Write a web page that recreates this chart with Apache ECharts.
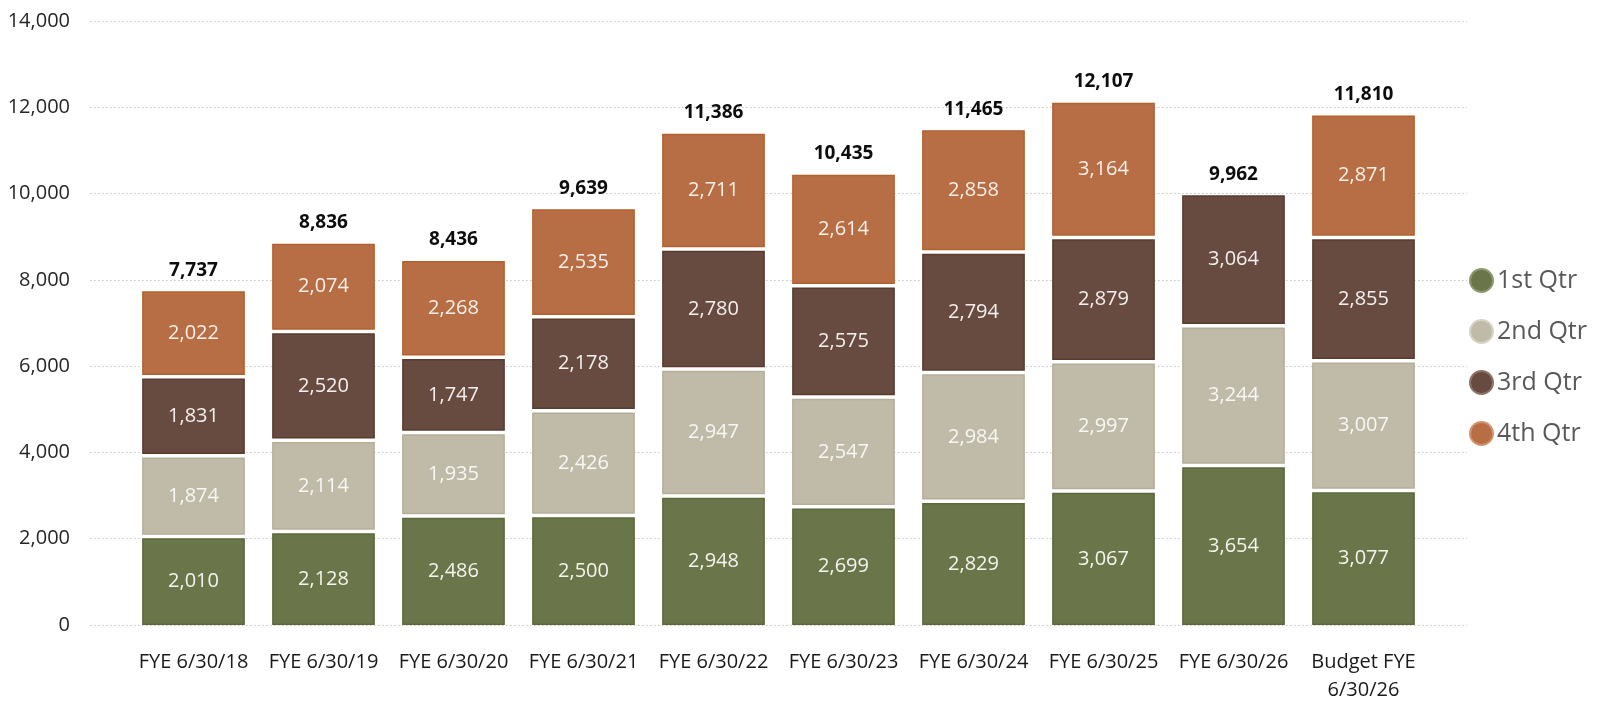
<!DOCTYPE html>
<html>
<head>
<meta charset="utf-8">
<title>Quarterly totals by fiscal year</title>
<script src="https://cdn.jsdelivr.net/npm/echarts@6/dist/echarts.min.js"></script>
<style>
  html, body { margin: 0; padding: 0; background: #ffffff; }
  #chart { width: 1602px; height: 709px; }
</style>
</head>
<body>
<div id="chart"></div>
<script>
// Fiscal years shown along the bottom
const categories = [
  'FYE 6/30/18', 'FYE 6/30/19', 'FYE 6/30/20', 'FYE 6/30/21', 'FYE 6/30/22',
  'FYE 6/30/23', 'FYE 6/30/24', 'FYE 6/30/25', 'FYE 6/30/26', 'Budget FYE\n6/30/26'
];

// Quarter values per fiscal year (null = quarter not yet reported)
const q1 = [2010, 2128, 2486, 2500, 2948, 2699, 2829, 3067, 3654, 3077];
const q2 = [1874, 2114, 1935, 2426, 2947, 2547, 2984, 2997, 3244, 3007];
const q3 = [1831, 2520, 1747, 2178, 2780, 2575, 2794, 2879, 3064, 2855];
const q4 = [2022, 2074, 2268, 2535, 2711, 2614, 2858, 3164, null, 2871];

const seriesNames = ['1st Qtr', '2nd Qtr', '3rd Qtr', '4th Qtr'];

// Value axis ticks
const yTicks = [0, 2000, 4000, 6000, 8000, 10000, 12000, 14000];

const palette = [
  { fill: '#6a7649', stroke: '#5b6839', ring: '#8e9870', text: '#f4f4ee' },
  { fill: '#c0bba8', stroke: '#b4ae99', ring: '#d6d2c4', text: '#f7f7f3' },
  { fill: '#684b40', stroke: '#5a3b2e', ring: '#8c7368', text: '#f4efec' },
  { fill: '#b86e45', stroke: '#b3602f', ring: '#d0936f', text: '#f8efe9' }
];

const fmt = v => String(v).replace(/\B(?=(\d{3})+(?!\d))/g, ',');
const FONT = '"Open Sans", "Noto Sans", sans-serif';

const quarters = [q1, q2, q3, q4];

// Stack bases, built from the quarter arrays
const bases = quarters.map((q, qi) =>
  categories.map((_, ci) => {
    let b = 0;
    for (let k = 0; k < qi; k++) b += quarters[k][ci] || 0;
    return b;
  })
);
const totals = categories.map((_, ci) =>
  quarters.reduce((s, q) => s + (q[ci] || 0), 0)
);

const SEG_GAP = 3.5;       // white gap between stacked segments
const BAR_RATIO = 0.79;    // bar width relative to the category band

function segmentSeries(qi) {
  const col = palette[qi];
  const data = [];
  quarters[qi].forEach((v, ci) => {
    if (v != null) data.push([ci, bases[qi][ci], v]);
  });
  return {
    name: seriesNames[qi],
    type: 'custom',
    xAxisIndex: 1,
    yAxisIndex: 1,
    itemStyle: { color: col.fill },
    encode: { x: 0, y: 2 },
    data: data,
    renderItem: function (params, api) {
      const ci = api.value(0);
      const base = api.value(1);
      const val = api.value(2);
      const top = api.coord([ci, base + val]);
      const bottom = api.coord([ci, base]);
      const band = api.size([1, 0])[0];
      const w = band * BAR_RATIO;
      const gap = base > 0 ? SEG_GAP : 0;
      const h = bottom[1] - top[1] - gap;
      return {
        type: 'group',
        children: [
          {
            type: 'rect',
            shape: { x: top[0] - w / 2 + 0.75, y: top[1] + 0.75, width: w - 1.5, height: h - 1.5 },
            style: { fill: col.fill, stroke: col.stroke, lineWidth: 1.5 }
          },
          {
            type: 'text',
            x: top[0],
            y: top[1] + h / 2,
            style: {
              text: fmt(val),
              fill: col.text,
              font: '20px ' + FONT,
              align: 'center',
              verticalAlign: 'middle'
            }
          }
        ]
      };
    }
  };
}

const totalSeries = {
  name: 'Total',
  type: 'custom',
  xAxisIndex: 1,
  yAxisIndex: 1,
  encode: { x: 0, y: 1 },
  data: totals.map((t, ci) => [ci, t]),
  renderItem: function (params, api) {
    const p = api.coord([api.value(0), api.value(1)]);
    return {
      type: 'text',
      x: p[0],
      y: p[1] - 21,
      style: {
        text: fmt(api.value(1)),
        fill: '#0d0d0d',
        font: 'bold 19px ' + FONT,
        align: 'center',
        verticalAlign: 'middle'
      }
    };
  }
};

const chart = echarts.init(document.getElementById('chart'), null, { renderer: 'canvas' });

chart.setOption({
  backgroundColor: '#ffffff',
  animation: false,
  grid: [
    { left: 90, top: 21, width: 1377, height: 604 },
    { left: 128.5, top: 21, width: 1300, height: 604 }
  ],
  legend: {
    orient: 'vertical',
    left: 1469,
    top: 268,
    padding: 0,
    itemWidth: 23,
    itemHeight: 23,
    itemGap: 26,
    selectedMode: false,
    textStyle: { color: '#595959', fontSize: 25, fontFamily: FONT, lineHeight: 23, padding: [0, 0, 0, -1] },
    data: seriesNames.map((n, i) => ({
      name: n,
      icon: 'circle',
      itemStyle: { color: palette[i].fill, borderColor: palette[i].ring, borderWidth: 2 }
    }))
  },
  xAxis: [
    { type: 'value', gridIndex: 0, show: false, min: 0, max: 1 },
    {
      type: 'category',
      gridIndex: 1,
      data: categories,
      axisLine: { show: false },
      axisTick: { show: false },
      axisLabel: {
        color: '#1a1a1a',
        fontSize: 20,
        fontFamily: FONT,
        lineHeight: 28,
        margin: 23,
        interval: 0
      }
    }
  ],
  yAxis: [
    {
      type: 'value',
      gridIndex: 0,
      min: yTicks[0],
      max: yTicks[yTicks.length - 1],
      interval: yTicks[1] - yTicks[0],
      axisLine: { show: false },
      axisTick: { show: false },
      axisLabel: {
        color: '#262626',
        fontSize: 20,
        fontFamily: FONT,
        margin: 20,
        formatter: v => fmt(v)
      },
      splitLine: { lineStyle: { color: '#c4c4c4', width: 1.2, type: [1.5, 2.5] } }
    },
    {
      type: 'value',
      gridIndex: 1,
      min: yTicks[0],
      max: yTicks[yTicks.length - 1],
      show: false,
      splitLine: { show: false }
    }
  ],
  series: [0, 1, 2, 3].map(segmentSeries).concat([totalSeries])
});
</script>
</body>
</html>
